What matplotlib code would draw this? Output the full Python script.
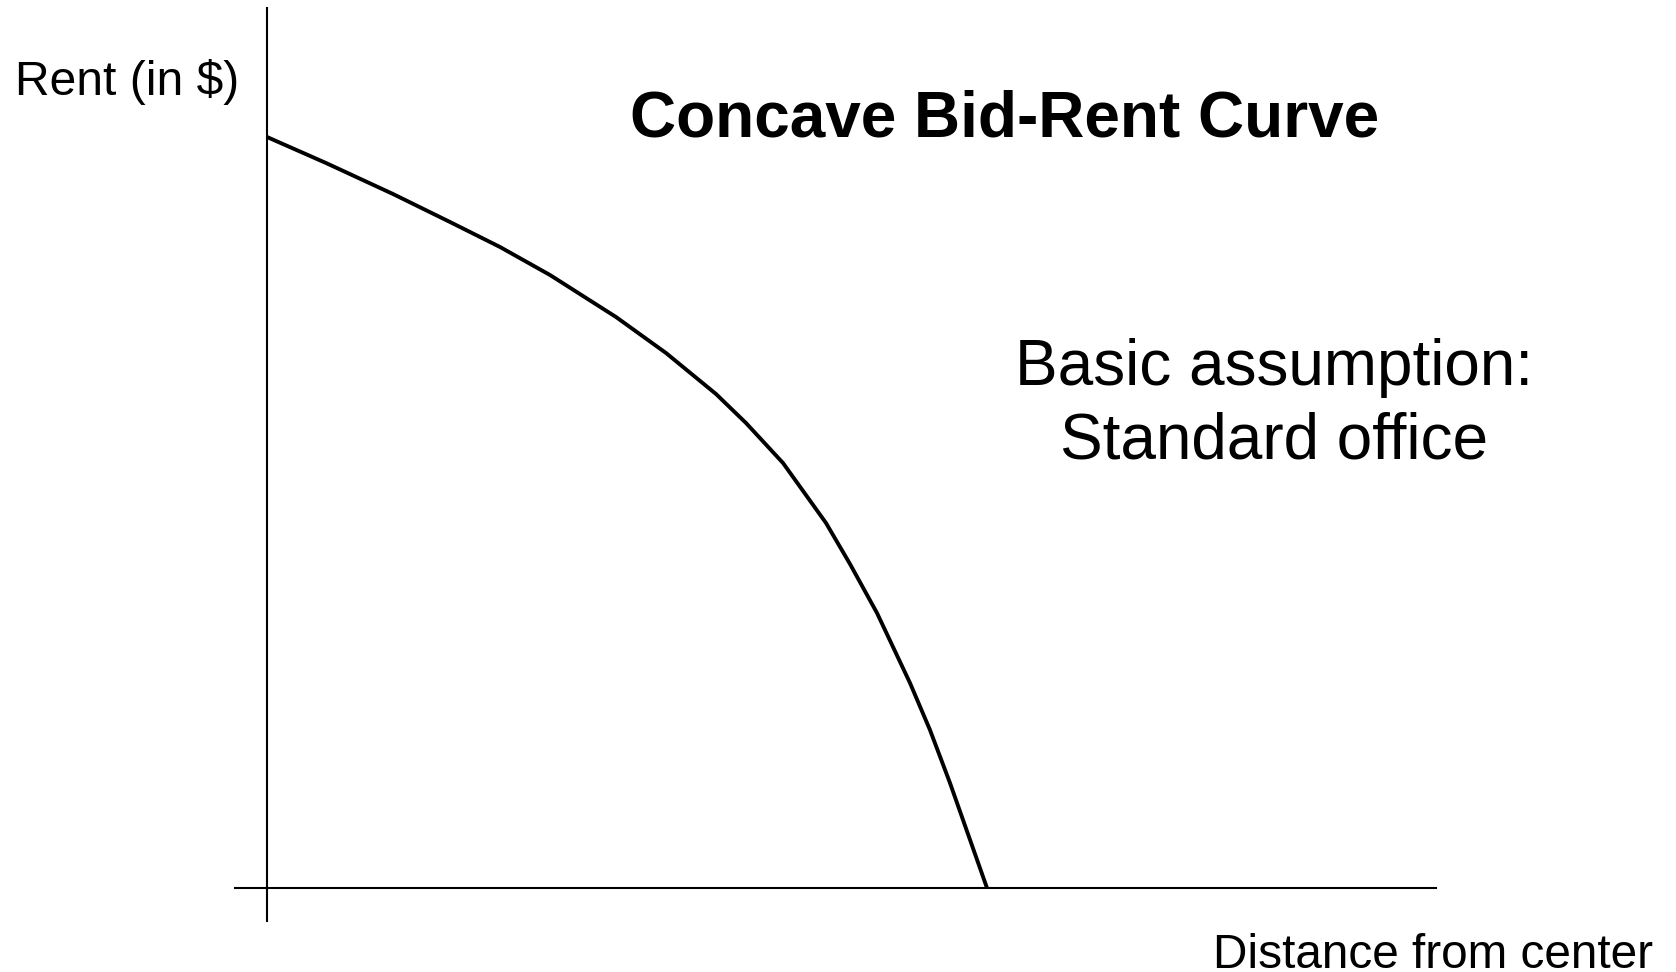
#!/usr/bin/env python3
"""Concave bid-rent curve sketch"""

import matplotlib
matplotlib.use('Agg')
import matplotlib.pyplot as plt

# curve (arbitrary units, origin at the axes crossing)
distance = [0, 59, 126, 183, 233, 283, 349, 399, 449, 479, 516, 559, 583,
            610, 643, 663, 683, 720]
rent = [751, 725, 694, 666, 641, 613, 571, 535, 494, 465, 425, 365, 324,
        275, 205, 158, 105, 0]

x_axis_span = [-32, 1169]
y_axis_span = [-33, 880]

plt.rcParams['font.family'] = ['Liberation Sans', 'DejaVu Sans']

fig = plt.figure(figsize=(16.76, 9.72), dpi=100)
ax = fig.add_axes([0, 0, 1, 1])
ax.set_xlim(-267, 1409)
ax.set_ylim(-84, 888)
ax.axis('off')

ax.plot(x_axis_span, [0, 0], color='black', lw=1.5)
ax.plot([0, 0], y_axis_span, color='black', lw=1.5)
ax.plot(distance, rent, color='black', lw=2.8, solid_capstyle='butt',
        solid_joinstyle='round')

ax.text(-252, 806, 'Rent (in $)', fontsize=34.6, ha='left', va='center')
ax.text(738, 768, 'Concave Bid-Rent Curve', fontsize=46, fontweight='bold',
        ha='center', va='center')
ax.text(1007, 483, 'Basic assumption:\nStandard office', fontsize=46,
        ha='center', va='center', multialignment='center', linespacing=1.28)
ax.text(946, -67, 'Distance from center', fontsize=34.4, ha='left', va='center')

fig.savefig('out.png', dpi=100, facecolor='white')
